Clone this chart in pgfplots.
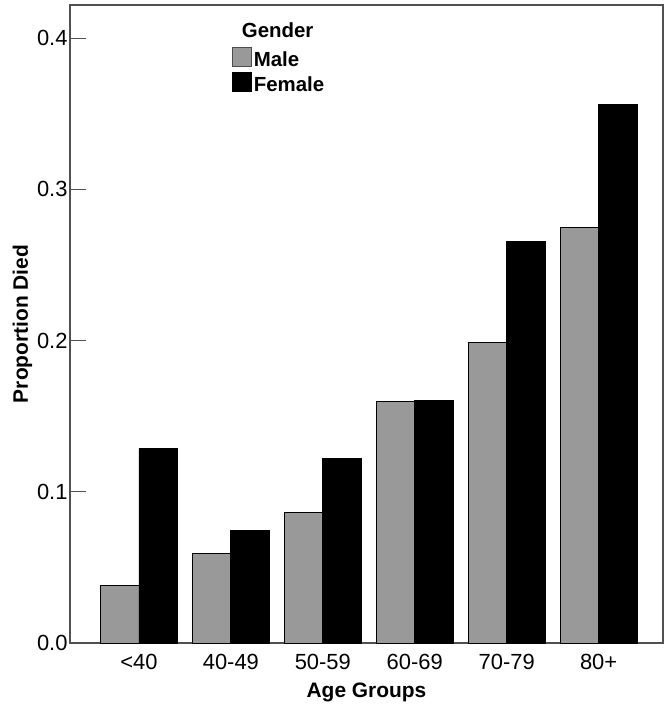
\documentclass[border=0pt]{standalone}
\usepackage{pgfplots}
\pgfplotsset{compat=1.18}
\usepackage{fontspec}
\setmainfont{Liberation Sans}
\definecolor{malegray}{RGB}{153,153,153}
\definecolor{axisgray}{RGB}{80,80,80}
\begin{document}
\begin{tikzpicture}
\begin{axis}[
  name=ax,
  scale only axis,
  width=593bp, height=638bp,
  ybar=0pt, bar width=0.42,
  xmin=-0.75, xmax=5.7,
  ymin=0, ymax=0.422,
  xtick={0,1,2,3,4,5},
  xticklabels={<40,40-49,50-59,60-69,70-79,80+},
  ytick={0,0.1,0.2,0.3,0.4},
  yticklabel style={xshift=1bp, /pgf/number format/fixed, /pgf/number format/fixed zerofill, /pgf/number format/precision=1, /pgf/number format/assume math mode=true},
  tick label style={font=\fontsize{22}{26}\selectfont},
  xticklabel style={yshift=-8bp},
  ytick pos=left,
  tick align=inside,
  major tick length=16bp,
  major x tick style={draw=none},
  tick style={axisgray, line width=1.2pt},
  axis line style={axisgray, line width=1.3pt},
  xlabel={\textbf{Age Groups}},
  ylabel={\textbf{Proportion Died}},
  label style={font=\fontsize{21}{25}\selectfont},
  xlabel style={yshift=-6bp},
  ylabel style={yshift=-2bp},
  legend cell align=left,
  legend style={draw=none, fill=none, at={(0.273,0.976)}, anchor=north west,
    font=\bfseries\fontsize{20.5}{25}\selectfont, row sep=2bp, inner sep=0pt},
  clip=false,
]
\addlegendimage{empty legend}
\addlegendentry{\hspace{-12bp}\raisebox{4bp}{Gender}}
\addplot[draw=black, line width=0.9pt, fill=malegray,
  legend image code/.code={\draw[draw=black!70, line width=0.8pt, fill=malegray] (0bp,-6.5bp) rectangle (19bp,12.5bp);}]
  coordinates {(0,0.0378) (1,0.0595) (2,0.0865) (3,0.1595) (4,0.199) (5,0.275)};
\addlegendentry{Male}
\addplot[draw=black, line width=0.9pt, fill=black,
  legend image code/.code={\draw[draw=black, line width=0.8pt, fill=black] (0bp,-6.5bp) rectangle (19bp,12.5bp);}]
  coordinates {(0,0.1285) (1,0.0742) (2,0.122) (3,0.1605) (4,0.2655) (5,0.356)};
\addlegendentry{Female}
\end{axis}
\pgfresetboundingbox
\path[use as bounding box] ([shift={(-70bp,-70bp)}]ax.south west) rectangle ([shift={(9bp,5bp)}]ax.north east);
\end{tikzpicture}
\end{document}
